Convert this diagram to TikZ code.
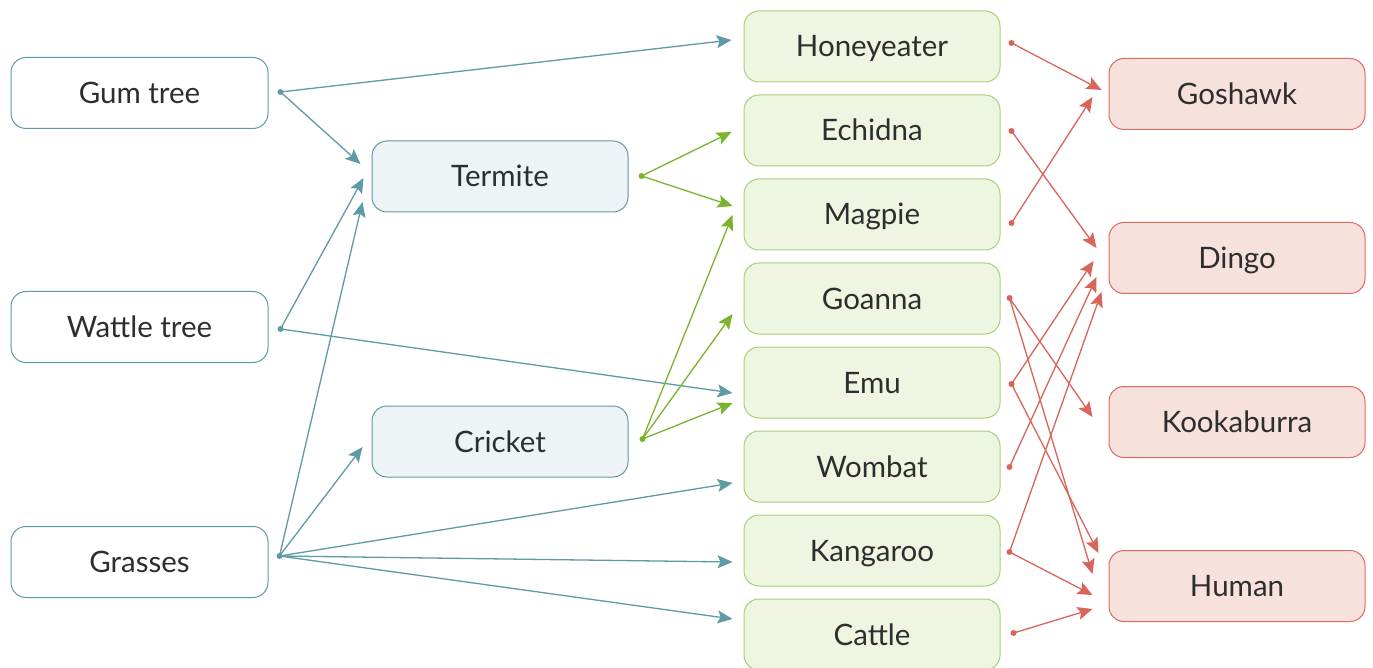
\documentclass[tikz,border=0pt]{standalone}
\usepackage{fontspec}
\setmainfont{Lato}
\usetikzlibrary{arrows.meta,calc}
\definecolor{tealc}{HTML}{5F9BA5}
\definecolor{greenc}{HTML}{7AB32E}
\definecolor{redc}{HTML}{D9645A}
\definecolor{midfill}{HTML}{EEF3F5}
\definecolor{greenfill}{HTML}{EEF5E1}
\definecolor{greenborder}{HTML}{A9D07C}
\definecolor{pinkfill}{HTML}{F7E1DC}
\definecolor{pinkborder}{HTML}{DD6A60}
\definecolor{textc}{HTML}{2E2E2E}
\begin{document}
\begin{tikzpicture}[x=1pt,y=-1pt,
  box/.style={rounded corners=15pt, minimum width=256pt, minimum height=71pt, line width=1pt,
    font=\fontsize{29.5}{34}\selectfont, text=textc, inner sep=0pt,
    text height=21pt, text depth=0pt},
  srcbox/.style={box, draw=tealc, fill=white},
  midbox/.style={box, draw=tealc, fill=midfill},
  grnbox/.style={box, draw=greenborder, fill=greenfill},
  redbox/.style={box, draw=pinkborder, fill=pinkfill},
  tip/.style={-{Stealth[length=15pt,width=13pt,inset=3pt]}},
  tedge/.style={tip, draw=tealc, line width=1.3pt},
  gedge/.style={tip, draw=greenc, line width=1.3pt},
  redge/.style={tip, draw=redc, line width=1.3pt},
]
\useasboundingbox (0,0) rectangle (1373,668);
\clip (0,0) rectangle (1373,668);
\fill[white] (0,0) rectangle (1373,668);

% nodes
\node[srcbox, minimum width=257pt] (gum) at (139.5,93) {Gum tree};
\node[srcbox, minimum width=257pt] (wattle) at (139.5,327) {Wattle tree};
\node[srcbox, minimum width=257pt] (grass) at (139.5,562) {Grasses};

\node[midbox] (termite) at (500,176.5) {Termite};
\node[midbox] (cricket) at (500,441.5) {Cricket};

\node[grnbox] (honey) at (872,46.5) {Honeyeater};
\node[grnbox] (echidna) at (872,130.5) {Echidna};
\node[grnbox] (magpie) at (872,214.5) {Magpie};
\node[grnbox] (goanna) at (872,298.5) {Goanna};
\node[grnbox] (emu) at (872,382.5) {Emu};
\node[grnbox] (wombat) at (872,466.5) {Wombat};
\node[grnbox] (kangaroo) at (872,550.5) {Kangaroo};
\node[grnbox] (cattle) at (872,634.5) {Cattle};

\node[redbox] (goshawk) at (1237,94) {Goshawk};
\node[redbox] (dingo) at (1237,258) {Dingo};
\node[redbox] (kooka) at (1237,422) {Kookaburra};
\node[redbox] (human) at (1237,586) {Human};

% source points
\coordinate (gumS) at ($(gum.east)+(12,-1)$);
\coordinate (wattleS) at ($(wattle.east)+(12,2)$);
\coordinate (grassS) at ($(grass.east)+(11,-6)$);
\coordinate (termiteS) at ($(termite.east)+(13,-0.5)$);
\coordinate (cricketS) at ($(cricket.east)+(14,-2.5)$);
\coordinate (honeyS) at ($(honey.east)+(11,-3.5)$);
\coordinate (echidnaS) at ($(echidna.east)+(11,0.5)$);
\coordinate (magpieS) at ($(magpie.east)+(11,8.5)$);
\coordinate (goannaS) at ($(goanna.east)+(9,-0.5)$);
\coordinate (emuS) at ($(emu.east)+(11,1.5)$);
\coordinate (wombatS) at ($(wombat.east)+(9,0.5)$);
\coordinate (kangarooS) at ($(kangaroo.east)+(9,1.5)$);
\coordinate (cattleS) at ($(cattle.east)+(13,-1.5)$);

% teal edges
\draw[tedge] (gumS) -- ($(honey.west)+(-12,-6.5)$);
\draw[tedge] (gumS) -- ($(termite.west)+(-11,-12.5)$);
\draw[tedge] (wattleS) -- ($(termite.west)+(-8,1.5)$);
\draw[tedge] (grassS) -- ($(termite.west)+(-9,25.5)$);
\draw[tedge] (wattleS) -- ($(emu.west)+(-11,10.5)$);
\draw[tedge] (grassS) -- ($(cricket.west)+(-9,5.5)$);
\draw[tedge] (grassS) -- ($(wombat.west)+(-11,16.5)$);
\draw[tedge] (grassS) -- ($(kangaroo.west)+(-11,11.5)$);
\draw[tedge] (grassS) -- ($(cattle.west)+(-11,-15.5)$);

% green edges
\draw[gedge] (termiteS) -- ($(echidna.west)+(-12,1.5)$);
\draw[gedge] (termiteS) -- ($(magpie.west)+(-11,-8.5)$);
\draw[gedge] (cricketS) -- ($(magpie.west)+(-11,0.5)$);
\draw[gedge] (cricketS) -- ($(goanna.west)+(-11,15.5)$);
\draw[gedge] (cricketS) -- ($(emu.west)+(-11,20.5)$);

% red edges
\draw[redge] (honeyS) -- ($(goshawk.west)+(-7,-4)$);
\draw[redge] (magpieS) -- ($(goshawk.west)+(-16,3)$);
\draw[redge] (echidnaS) -- ($(dingo.west)+(-12,-10)$);
\draw[redge] (emuS) -- ($(dingo.west)+(-15,3)$);
\draw[redge] (wombatS) -- ($(dingo.west)+(-12,19)$);
\draw[redge] (kangarooS) -- ($(dingo.west)+(-7,34)$);
\draw[redge] (goannaS) -- ($(kooka.west)+(-16,-5)$);
\draw[redge] (goannaS) -- ($(human.west)+(-16,-12)$);
\draw[redge] (emuS) -- ($(human.west)+(-10,-33)$);
\draw[redge] (kangarooS) -- ($(human.west)+(-16,9)$);
\draw[redge] (cattleS) -- ($(human.west)+(-16,23)$);

% dots
\foreach \p in {gumS,wattleS,grassS} \fill[tealc] (\p) circle (3pt);
\foreach \p in {termiteS,cricketS} \fill[greenc] (\p) circle (3pt);
\foreach \p in {honeyS,echidnaS,magpieS,goannaS,emuS,wombatS,kangarooS,cattleS} \fill[redc] (\p) circle (3pt);
\end{tikzpicture}
\end{document}
